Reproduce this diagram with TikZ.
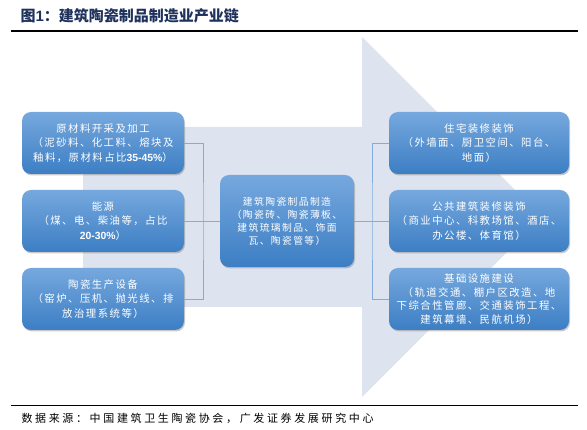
\documentclass[tikz,border=0pt]{standalone}
\usepackage{fontspec}
\usetikzlibrary{shadows}
\newfontfamily\cjk{Noto Sans CJK SC}
\newfontfamily\cjkbox[LetterSpace=14]{Noto Sans CJK SC}
\newfontfamily\cjksrc[LetterSpace=24]{Noto Sans CJK SC}
\newfontfamily\latinb{Liberation Sans}
\definecolor{titlec}{RGB}{31,50,92}
\definecolor{arrowc}{RGB}{221,228,240}
\definecolor{linec}{RGB}{130,172,222}
\definecolor{boxtop}{RGB}{118,168,222}
\definecolor{boxbot}{RGB}{60,126,196}
\tikzset{
  chainbox/.style={rounded corners=9pt, top color=boxtop, bottom color=boxbot,
    draw=none, text=white, align=center, inner sep=2pt,
    drop shadow={shadow xshift=1pt, shadow yshift=-1.5pt, opacity=0.35, fill=black!60},
    font=\cjkbox\fontsize{10.4}{14.5}\selectfont},
  leftbox/.style={chainbox, minimum width=162pt, minimum height=62pt},
  rightbox/.style={chainbox, minimum width=180pt, minimum height=62pt},
  link/.style={draw=linec, line width=0.9pt},
  rule/.style={draw=black, line width=1.2pt}
}
\begin{document}
\begin{tikzpicture}[x=1pt,y=-1pt]
\useasboundingbox (0,0) rectangle (587,430);
% title
\node[anchor=west, text=titlec, font=\cjk\bfseries\fontsize{15}{16}\selectfont] (title) at (17,16) {图{\latinb\bfseries 1}：建筑陶瓷制品制造业产业链};
\coordinate (r1a) at (11,31); \coordinate (r1b) at (578,31);
\draw[rule] (r1a) -- (r1b);
% big arrow
\fill[arrowc] (83,127) -- (362,127) -- (362,37) -- (542,217) -- (362,397) -- (362,307) -- (83,307) -- cycle;
% boxes
\node[leftbox] (L1) at (103,143) {原材料开采及加工\\（泥砂料、化工料、熔块及\\釉料，原材料占比{\latinb\bfseries 35-45\%}）};
\node[leftbox] (L2) at (103,221) {能源\\（煤、电、柴油等，占比\\{\latinb\bfseries 20-30\%}）};
\node[leftbox] (L3) at (103,299) {陶瓷生产设备\\（窑炉、压机、抛光线、排\\放治理系统等）};
\node[chainbox, minimum width=134pt, minimum height=92pt, font=\cjkbox\fontsize{9.8}{13}\selectfont] (C) at (287,221) {建筑陶瓷制品制造\\（陶瓷砖、陶瓷薄板、\\建筑琉璃制品、饰面\\瓦、陶瓷管等）};
\node[rightbox] (R1) at (479,143) {住宅装修装饰\\（外墙面、厨卫空间、阳台、\\地面）};
\node[rightbox] (R2) at (479,221) {公共建筑装修装饰\\（商业中心、科教场馆、酒店、\\办公楼、体育馆）};
\node[rightbox, font=\cjkbox\fontsize{10.4}{13.7}\selectfont] (R3) at (479,299) {基础设施建设\\（轨道交通、棚户区改造、地\\下综合性管廊、交通装饰工程、\\建筑幕墙、民航机场）};
% connectors
\coordinate (jl) at (203,221);
\coordinate (jr) at (372,221);
\draw[link] (L1.east) -| (jl) |- (L3.east);
\draw[link] (L2.east) -- (C.west);
\draw[link] (R1.west) -| (jr) |- (R3.west);
\draw[link] (C.east) -- (R2.west);
% bottom
\coordinate (r2a) at (11,405); \coordinate (r2b) at (578,405);
\draw[draw=black, line width=0.8pt] (r2a) -- (r2b);
\node[anchor=west, font=\cjksrc\fontsize{11}{12}\selectfont] (src) at (18,418) {数据来源：中国建筑卫生陶瓷协会，广发证券发展研究中心};
\end{tikzpicture}
\end{document}
